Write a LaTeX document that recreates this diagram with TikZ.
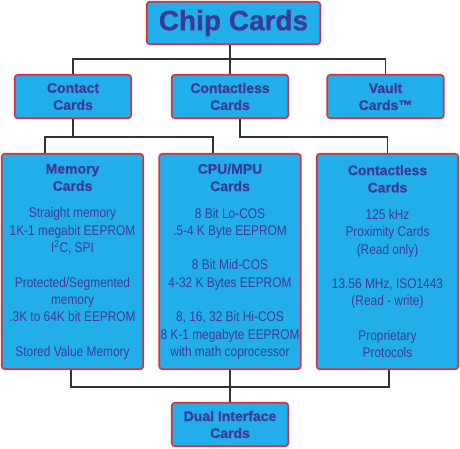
\documentclass[tikz,border=0pt]{standalone}
\usepackage{fontspec}
\setmainfont{Liberation Sans}
\newfontfamily\narrowfont[FakeStretch=0.85]{Liberation Sans}
\newfontfamily\headfont[FakeBold=0.9]{Liberation Sans Bold}
\usetikzlibrary{positioning}

\definecolor{cardblue}{HTML}{22AEEA}
\definecolor{cardred}{HTML}{D83239}
\definecolor{cardtext}{HTML}{3B3B95}
\definecolor{linkgray}{HTML}{333333}

\tikzset{
    cardbox/.style={draw=cardred, fill=cardblue, line width=1.6pt, rounded corners=3pt,
        text=cardtext, inner sep=0pt, align=center,
        font=\fontsize{14}{17}\selectfont\headfont},
    smallcard/.style={cardbox, minimum width=116.5pt, minimum height=43.5pt},
    bigcard/.style={cardbox, minimum width=141.5pt, minimum height=215.5pt,
        font=\fontsize{14}{17.3}\selectfont\headfont},
    link/.style={draw=linkgray, line width=1.5pt}
}
\newcommand{\bodytext}{\narrowfont}

\begin{document}
\begin{tikzpicture}[x=1pt, y=-1pt]
    \useasboundingbox (0,0) rectangle (460,448);

    % 見出し
    \node[cardbox, minimum width=173.5pt, minimum height=42.5pt,
        font=\fontsize{28}{30}\selectfont\headfont] (chip) at (233.5,23) {Chip Cards};

    % 2段目
    \node[smallcard] (contact) at (73,96.5) {Contact\\Cards};
    \node[smallcard] (ctless)  at (230,96.5) {Contactless\\Cards};
    \node[smallcard] (vault)   at (385.5,96.5) {Vault\\Cards™};

    % 3段目
    \node[bigcard] (memory) at (72.5,261.5) {Memory\\Cards\\[9.7pt]
        \bodytext Straight memory\\\bodytext 1K-1 megabit EEPROM\\\bodytext I\textsuperscript{2}C, SPI\\[17.3pt]
        \bodytext Protected/Segmented\\\bodytext memory\\\bodytext .3K to 64K bit EEPROM\\[17.3pt]
        \bodytext Stored Value Memory};
    \node[bigcard] (cpu) at (230,261.5) {CPU/MPU\\Cards\\[9.7pt]
        \bodytext 8 Bit Lo-COS\\\bodytext .5-4 K Byte EEPROM\\[17.3pt]
        \bodytext 8 Bit Mid-COS\\\bodytext 4-32 K Bytes EEPROM\\[17.3pt]
        \bodytext 8, 16, 32 Bit Hi-COS\\\bodytext 8 K-1 megabyte EEPROM\\\bodytext with math coprocessor};
    \node[bigcard] (prox) at (387.5,261.5) {Contactless\\Cards\\[9.7pt]
        \bodytext 125 kHz\\\bodytext Proximity Cards\\\bodytext (Read only)\\[17.3pt]
        \bodytext 13.56 MHz, ISO1443\\\bodytext (Read - write)\\[17.3pt]
        \bodytext Proprietary\\\bodytext Protocols};

    % 最下段
    \node[smallcard] (dual) at (230,424.5) {Dual Interface\\Cards};

    % 接続線
    \coordinate (busA) at (230,59);
    \coordinate (busB) at (230,137);
    \coordinate (busC) at (230,387);
    \coordinate (memtop) at ([xshift=-27.5pt]memory.north);
    \coordinate (cputop) at ([xshift=-17pt]cpu.north);
    \coordinate (ctlow)  at ([xshift=10pt]ctless.south);

    \draw[link] (ctless.north) -- (ctless.north |- chip.south);
    \draw[link] (contact.north) -- (contact.north |- busA) -- (vault.north |- busA) -- (vault.north);
    \draw[link] (contact.south) -- (contact.south |- busB);
    \draw[link] (memtop) -- (memtop |- busB) -- (cputop |- busB) -- (cputop);
    \draw[link] (ctlow) -- (ctlow |- busB) -- (prox.north |- busB) -- (prox.north);
    \draw[link] ([xshift=-1.5pt]memory.south) -- ([xshift=-1.5pt]memory.south |- busC)
        -- ([xshift=1.5pt]prox.south |- busC) -- ([xshift=1.5pt]prox.south);
    \draw[link] (cpu.south) -- (dual.north);
\end{tikzpicture}
\end{document}
